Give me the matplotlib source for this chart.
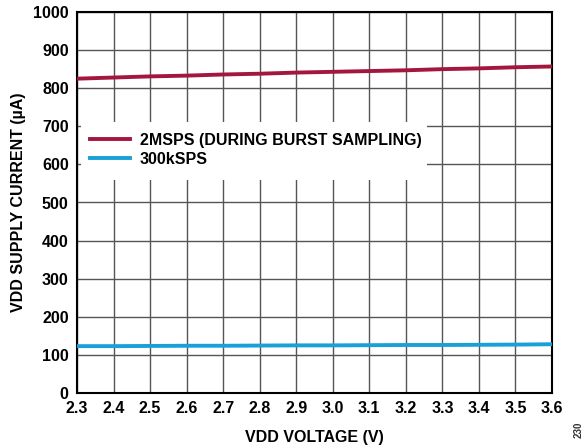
#!/usr/bin/env python3

import matplotlib
matplotlib.use("Agg")
import matplotlib.pyplot as plt
from matplotlib.patches import Rectangle

plt.rcParams["font.family"] = ["Liberation Sans", "DejaVu Sans"]
plt.rcParams["font.weight"] = "bold"

# supply current vs supply voltage
vdd = [2.3, 2.4, 2.5, 2.6, 2.7, 2.8, 2.9, 3.0, 3.1, 3.2, 3.3, 3.4, 3.5, 3.6]
i_2msps = [825, 828, 831, 833, 836, 838, 841, 843, 845, 847, 850, 852, 855, 857]
i_300ksps = [123, 123, 123.5, 124, 124, 124.5, 125, 125, 125.5, 126, 126, 126.5, 127, 128]

xticks = [2.3, 2.4, 2.5, 2.6, 2.7, 2.8, 2.9, 3.0, 3.1, 3.2, 3.3, 3.4, 3.5, 3.6]
yticks = [0, 100, 200, 300, 400, 500, 600, 700, 800, 900, 1000]

fig = plt.figure(figsize=(5.83, 4.48), dpi=100)
ax = fig.add_axes([77 / 583, 55 / 448, 475 / 583, 381 / 448])

ax.plot(vdd, i_2msps, color="#a3173f", lw=2.8, label="2MSPS (DURING BURST SAMPLING)", zorder=3)
ax.plot(vdd, i_300ksps, color="#18a1d9", lw=2.8, label="300kSPS", zorder=3)

ax.set_xlim(2.3, 3.6)
ax.set_ylim(0, 1000)
ax.set_xticks(xticks)
ax.set_yticks(yticks)
ax.set_xticklabels(["%.1f" % v for v in xticks], fontsize=11.5, fontweight="bold")
ax.set_yticklabels([str(v) for v in yticks], fontsize=11.5, fontweight="bold")
ax.tick_params(length=0, pad=6)
ax.grid(True, color="#555555", lw=1.0)
ax.set_axisbelow(True)
for s in ax.spines.values():
    s.set_linewidth(1.5)
    s.set_color("black")

ax.set_xlabel("VDD VOLTAGE (V)", fontsize=11.5, fontweight="bold", labelpad=10)
ax.set_ylabel("VDD SUPPLY CURRENT (µA)", fontsize=11.5, fontweight="bold", labelpad=5)

# white box behind the legend hides the grid
ax.add_patch(Rectangle((0.0084, 0.559), 0.728, 0.152, transform=ax.transAxes,
                       facecolor="white", edgecolor="none", zorder=2.5))
leg = ax.legend(loc="upper left", bbox_to_anchor=(0.0274, 0.683), frameon=False,
                prop={"size": 11.5, "weight": "bold"}, handlelength=2.5,
                handletextpad=0.6, borderpad=0, borderaxespad=0,
                labelspacing=0.25)
leg.set_zorder(4)

fig.text(0.993, 0.022, "230", fontsize=7, rotation=90, color="#333333",
         ha="center", va="bottom")

plt.savefig("out.png", dpi=100)
